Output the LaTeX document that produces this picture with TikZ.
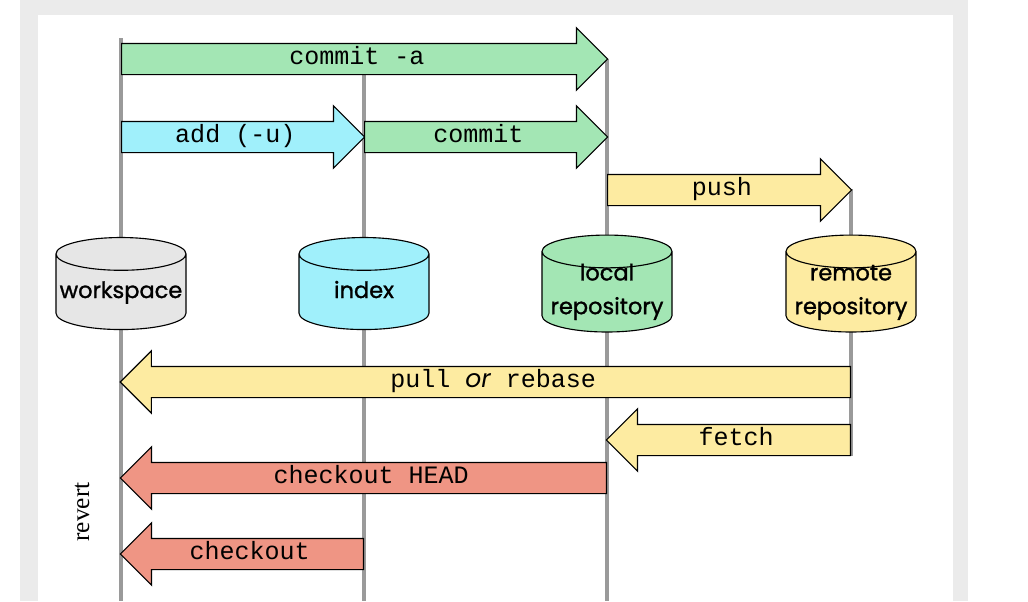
\documentclass[tikz,border=0pt]{standalone}
\usepackage{fontspec}
\setmonofont{Liberation Mono}
\newfontfamily\storefont{Poppins}[FakeBold=1.2]
\newfontfamily\orfont{Poppins}
\newfontfamily\revertfont{Liberation Serif}
\usetikzlibrary{shapes.geometric,shapes.arrows}
\definecolor{gitgreen}{HTML}{A3E6B4}
\definecolor{gitcyan}{HTML}{A0F0FB}
\definecolor{gityellow}{HTML}{FDEBA1}
\definecolor{gitred}{HTML}{EF9584}
\definecolor{wsgray}{HTML}{E6E6E6}
\definecolor{colgray}{HTML}{9A9A9A}
\definecolor{framegray}{HTML}{EBEBEB}

\begin{document}
\begin{tikzpicture}[x=0.025cm,y=-0.025cm,
  col/.style={draw=colgray,line width=2.2pt},
  store/.style={cylinder,shape border rotate=90,aspect=0.26,draw,line width=0.8pt,
    inner sep=0pt,minimum width=3.25cm,minimum height=2.3cm,
    text width=3.15cm,align=center,text height=0.45cm,text depth=0.15cm,
    font=\storefont\fontsize{16}{24}\selectfont},
  twoline/.style={text height=0.3cm,text depth=0.88cm},
  fat/.style={single arrow,draw,line width=0.8pt,inner sep=0pt,
    single arrow head extend=0.39cm,single arrow head indent=0pt,
    text height=0.5cm,text depth=0.25cm,
    font=\ttfamily\fontsize{17.8}{20}\selectfont},
  back/.style={fat,shape border rotate=180}]
\useasboundingbox (0,0) rectangle (1028,601);
\fill[framegray] (20,0) rectangle (968,601);
\fill[white] (38,15) rectangle (953,601);
% columns
\coordinate (ws top) at (121,38);
\coordinate (idx top) at (364,59);
\coordinate (loc top) at (607,59);
\coordinate (rem top) at (851,189);
\coordinate (ws end) at (121,601);
\coordinate (idx end) at (364,601);
\coordinate (loc end) at (607,601);
\coordinate (rem end) at (851,456);
\draw[col] (ws top) -- (ws end);
\draw[col] (idx top) -- (idx end);
\draw[col] (loc top) -- (loc end);
\draw[col] (rem top) -- (rem end);
% stores
\node (ws) [store,fill=wsgray] at (ws top |- 0,292) {workspace};
\node (idx) [store,fill=gitcyan] at (idx top |- 0,292) {index};
\node (loc) [store,twoline,fill=gitgreen] at (loc top |- 0,292) {local\\repository};
\node (rem) [store,twoline,fill=gityellow] at (rem top |- 0,292) {remote\\repository};
% forward
\node (commit a) [fat,fill=gitgreen,minimum height=12.15cm,anchor=tail] at (ws top |- 0,59) {commit -a};
\node (add) [fat,fill=gitcyan,minimum height=6.075cm,anchor=tail] at (ws top |- 0,137) {add (-u)};
\node (commit) [fat,fill=gitgreen,minimum height=6.075cm,anchor=tail] at (idx top |- 0,137) {commit};
\node (push) [fat,fill=gityellow,minimum height=6.1cm,anchor=tail] at (loc top |- 0,190) {push};
% backward
\node (pull) [back,fill=gityellow,minimum height=18.25cm,anchor=tail] at (rem top |- 0,382) {pull {\orfont\itshape or} rebase};
\node (fetch) [back,fill=gityellow,minimum height=6.1cm,anchor=tail] at (rem top |- 0,440) {fetch};
\node (co head) [back,fill=gitred,minimum height=12.15cm,anchor=tail] at (loc top |- 0,478) {checkout HEAD};
\node (co) [back,fill=gitred,minimum height=6.075cm,anchor=tail] at (idx top |- 0,554) {checkout};
\node (revert) [rotate=90,font=\revertfont\fontsize{18}{20}\selectfont] at (82,512) {revert};
\end{tikzpicture}
\end{document}
